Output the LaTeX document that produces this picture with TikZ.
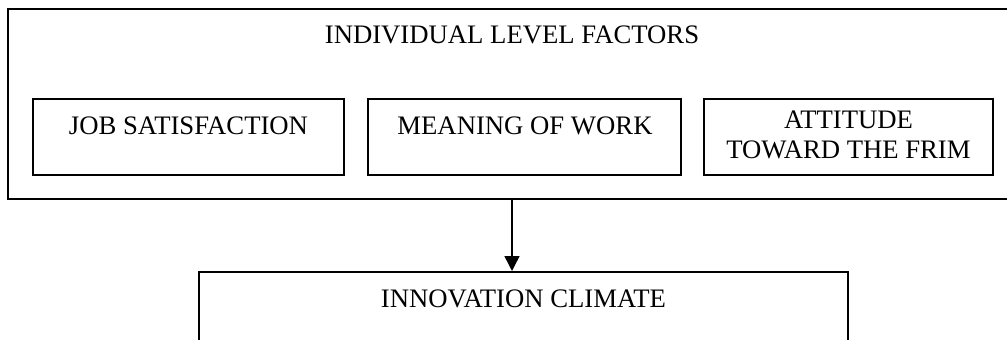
\documentclass[tikz,border=0pt]{standalone}
\usepackage{fontspec}
\setmainfont{Liberation Serif}
\usetikzlibrary{arrows.meta}
\tikzset{
  frame/.style={draw=black,line width=1.5pt,inner sep=0pt},
  label/.style={anchor=base,font=\fontsize{26.7}{30}\selectfont,align=center,inner sep=0pt}
}
\begin{document}
\begin{tikzpicture}[x=1pt,y=-1pt]
\useasboundingbox (0,0) rectangle (1007,340);
\node[frame,minimum width=1008pt,minimum height=190pt] (outer) at (512,104) {};
\node[label] (title) at (512,43) {INDIVIDUAL LEVEL FACTORS};
\node[frame,minimum width=311pt,minimum height=76pt] (job) at (188.5,137) {};
\node[frame,minimum width=313pt,minimum height=76pt] (meaning) at (524.5,137) {};
\node[frame,minimum width=289pt,minimum height=76pt] (attitude) at (848.5,137) {};
\node[label] (jobtext) at (188.5,134.5) {JOB SATISFACTION};
\node[label] (meaningtext) at (525,134.5) {MEANING OF WORK};
\node[label,anchor=north] (attitudetext) at (848.5,111) {ATTITUDE\\TOWARD THE FRIM};
\node[frame,minimum width=649pt,minimum height=100pt,anchor=north] (climate) at (523.5,271) {};
\node[label] (climatetext) at (523.5,307) {INNOVATION CLIMATE};
\draw[line width=1.5pt,-{Triangle[length=15pt,width=15pt]}] (outer.south) -- (outer.south |- climate.north);
\end{tikzpicture}
\end{document}
